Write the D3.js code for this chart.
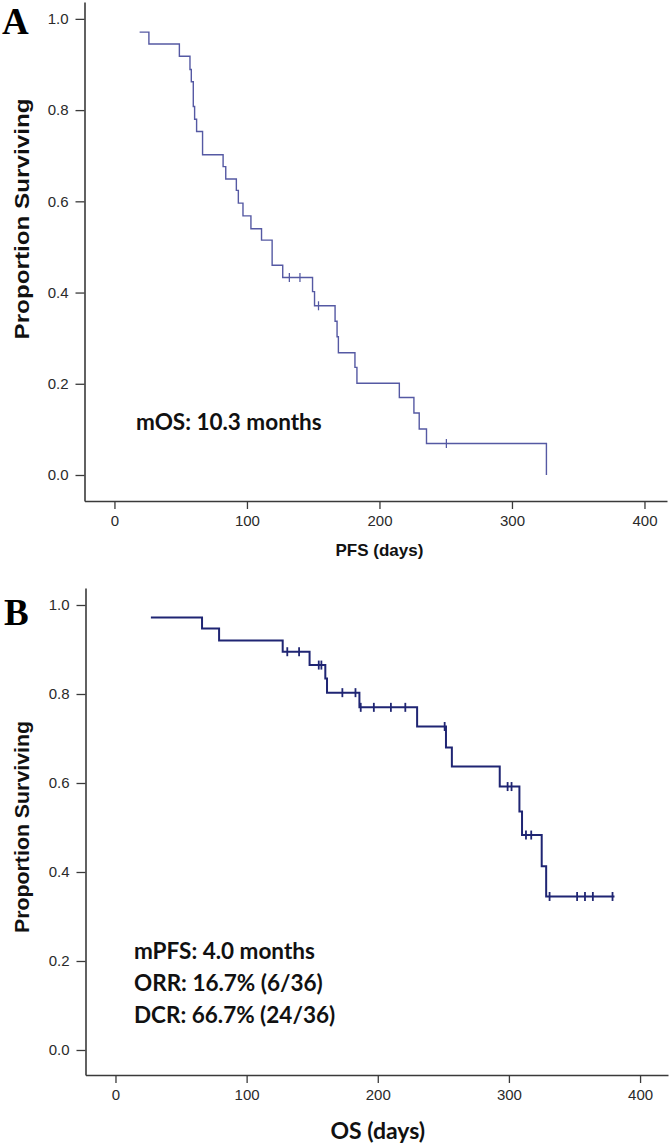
<!DOCTYPE html>
<html>
<head>
<meta charset="utf-8">
<script src="https://cdn.jsdelivr.net/npm/d3@7"></script>
<style>
  html, body { margin: 0; padding: 0; background: #ffffff; }
  svg { display: block; }
</style>
</head>
<body>
<svg id="chart" width="670" height="1144"></svg>
<script>
// ---------------- DATA ----------------
// Panel A (PFS) Kaplan-Meier events: day and proportion surviving after the event
const pfsEventDays = [19, 26, 49, 57, 58, 59.5, 60.5, 62, 66.5, 82, 84, 92, 93.5, 97, 103, 111, 119, 127, 149.5, 151, 166.5, 168, 169, 181.5, 183, 215, 226, 230, 235.5, 326];
const pfsSurvival  = [0.971, 0.945, 0.918, 0.889, 0.862, 0.808, 0.780, 0.753, 0.702, 0.676, 0.649, 0.624, 0.596, 0.568, 0.540, 0.515, 0.460, 0.433, 0.402, 0.371, 0.337, 0.303, 0.268, 0.236, 0.201, 0.170, 0.136, 0.101, 0.069, 0.0];
const pfsCensorDays = [132, 140, 154, 250.5];

// Panel B (OS) Kaplan-Meier events
const osEventDays = [27, 66, 79, 127.5, 148, 160, 161.3, 186, 230, 252, 256.5, 293, 308, 310, 325, 328.4];
const osSurvival  = [0.972, 0.947, 0.920, 0.895, 0.865, 0.835, 0.803, 0.770, 0.727, 0.680, 0.637, 0.592, 0.536, 0.483, 0.413, 0.345];
const osCensorDays = [131, 140, 155, 157, 173, 183, 187, 197, 210, 221, 251, 299, 302, 313, 317, 331, 352, 358, 364, 379];
const osLastFollowUp = 380.5;

// Axis ticks
const xTickValues = [0, 100, 200, 300, 400];
const yTickValues = [0.0, 0.2, 0.4, 0.6, 0.8, 1.0];

// Texts
const panelLabels = ["A", "B"];
const yAxisTitle = "Proportion Surviving";
const xAxisTitles = ["PFS (days)", "OS (days)"];
const annotationA = ["mOS: 10.3 months"];
const annotationB = ["mPFS: 4.0 months", "ORR: 16.7% (6/36)", "DCR: 66.7% (24/36)"];

// ---------------- DRAW ----------------
const svg = d3.select("#chart");

function drawPanel(cfg) {
  const g = svg.append("g");
  const x = d3.scaleLinear().domain(cfg.xDomain).range(cfg.xRange);
  const y = d3.scaleLinear().domain(cfg.yDomain).range(cfg.yRange);

  // axes
  const yAxis = g.append("g")
    .attr("transform", `translate(${cfg.xRange[0]},0)`)
    .call(d3.axisLeft(y).tickValues(yTickValues).tickFormat(d3.format(".1f"))
      .tickSize(9).tickSizeOuter(0).tickPadding(7));
  const xAxis = g.append("g")
    .attr("transform", `translate(0,${cfg.yRange[0]})`)
    .call(d3.axisBottom(x).tickValues(xTickValues).tickFormat(d3.format("d"))
      .tickSize(8).tickSizeOuter(0).tickPadding(6));
  [yAxis, xAxis].forEach(ax => {
    ax.select(".domain").attr("stroke", "#3a3a3a").attr("stroke-width", 1.6);
    ax.selectAll(".tick line").attr("stroke", "#3a3a3a").attr("stroke-width", 1.3);
    ax.selectAll(".tick text")
      .attr("fill", "#2a2a2a")
      .style("font-family", "'Liberation Sans', Arial, sans-serif")
      .style("font-size", "15px");
  });

  // KM step curve
  const pts = cfg.days.map((d, i) => [d, cfg.surv[i]]);
  if (cfg.lastFollowUp != null) pts.push([cfg.lastFollowUp, cfg.surv[cfg.surv.length - 1]]);
  const line = d3.line().x(d => x(d[0])).y(d => y(d[1])).curve(d3.curveStepAfter);
  g.append("path")
    .datum(pts)
    .attr("d", line)
    .attr("fill", "none")
    .attr("stroke", cfg.color)
    .attr("stroke-width", cfg.lineWidth);

  // censor marks
  const survAt = t => {
    const i = d3.bisectRight(cfg.days, t) - 1;
    return i >= 0 ? cfg.surv[i] : 1;
  };
  g.selectAll("line.censor")
    .data(cfg.censors)
    .join("line")
    .attr("class", "censor")
    .attr("x1", d => x(d)).attr("x2", d => x(d))
    .attr("y1", d => y(survAt(d)) - 4.5)
    .attr("y2", d => y(survAt(d)) + 4.5)
    .attr("stroke", cfg.color)
    .attr("stroke-width", cfg.lineWidth * 0.9);

  // y-axis title
  g.append("text")
    .attr("transform", `translate(${cfg.yTitleX},${cfg.yTitleY}) rotate(-90)`)
    .attr("text-anchor", "middle")
    .attr("textLength", cfg.yTitleLen)
    .attr("lengthAdjust", "spacingAndGlyphs")
    .style("font-family", "'Liberation Sans', Arial, sans-serif")
    .style("font-weight", "bold")
    .style("font-size", "20px")
    .attr("fill", "#111")
    .text(yAxisTitle);

  // x-axis title
  g.append("text")
    .attr("x", x(200))
    .attr("y", cfg.xTitleY)
    .attr("text-anchor", "middle")
    .style("font-family", cfg.xTitleFont)
    .style("font-weight", "bold")
    .style("font-size", cfg.xTitleSize)
    .attr("fill", "#111")
    .text(cfg.xTitle);

  // annotation text
  g.selectAll("text.annot")
    .data(cfg.annotation)
    .join("text")
    .attr("class", "annot")
    .attr("x", cfg.annotX)
    .attr("y", (d, i) => cfg.annotY + i * 32)
    .style("font-family", "Lato, 'Open Sans', sans-serif")
    .style("font-weight", "bold")
    .style("font-size", "22.5px")
    .attr("fill", "#111")
    .text(d => d);

  // panel label
  g.append("text")
    .attr("x", cfg.labelX)
    .attr("y", cfg.labelY)
    .style("font-family", "'Liberation Serif', 'Times New Roman', serif")
    .style("font-weight", "bold")
    .style("font-size", "37px")
    .attr("fill", "#000")
    .text(cfg.label);
}

drawPanel({
  label: panelLabels[0], labelX: 2, labelY: 34,
  xDomain: [-22.6, 417], xRange: [84.5, 667],
  yDomain: [-0.057, 1.037], yRange: [501, 2],
  days: pfsEventDays, surv: pfsSurvival, censors: pfsCensorDays, lastFollowUp: null,
  color: "#5559a3", lineWidth: 1.4,
  yTitleX: 29, yTitleY: 219, yTitleLen: 241,
  xTitle: xAxisTitles[0], xTitleY: 556, xTitleFont: "'Liberation Sans', Arial, sans-serif", xTitleSize: "17px",
  annotation: annotationA, annotX: 136, annotY: 430
});

drawPanel({
  label: panelLabels[1], labelX: 4, labelY: 625,
  xDomain: [-22.86, 421.3], xRange: [85.5, 668],
  yDomain: [-0.0562, 1.0382], yRange: [1075, 588],
  days: osEventDays, surv: osSurvival, censors: osCensorDays, lastFollowUp: osLastFollowUp,
  color: "#1f2573", lineWidth: 2,
  yTitleX: 29, yTitleY: 827, yTitleLen: 212,
  xTitle: xAxisTitles[1], xTitleY: 1139, xTitleFont: "Lato, 'Open Sans', sans-serif", xTitleSize: "23px",
  annotation: annotationB, annotX: 134, annotY: 959
});
</script>
</body>
</html>
